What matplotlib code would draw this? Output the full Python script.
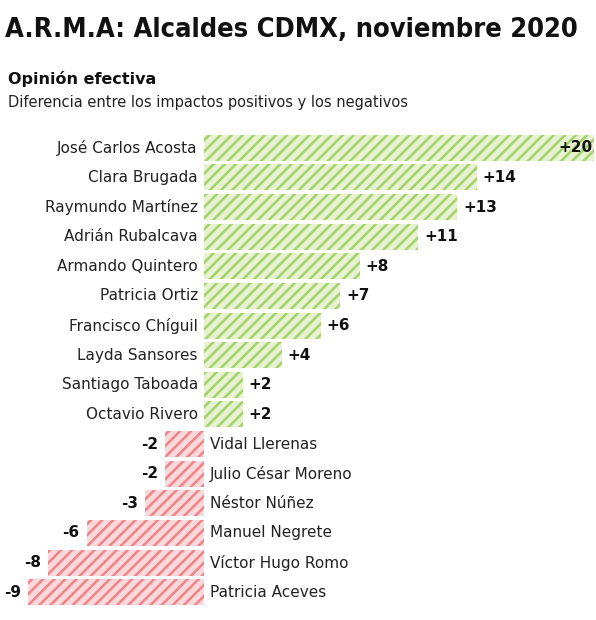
import matplotlib.pyplot as plt

names = ['José Carlos Acosta', 'Clara Brugada', 'Raymundo Martínez', 'Adrián Rubalcava',
         'Armando Quintero', 'Patricia Ortiz', 'Francisco Chíguil', 'Layda Sansores',
         'Santiago Taboada', 'Octavio Rivero', 'Vidal Llerenas', 'Julio César Moreno',
         'Néstor Núñez', 'Manuel Negrete', 'Víctor Hugo Romo', 'Patricia Aceves']
values = [20, 14, 13, 11, 8, 7, 6, 4, 2, 2, -2, -2, -3, -6, -8, -9]

plt.rcParams['hatch.linewidth'] = 1.8
fig = plt.figure(figsize=(5.96, 6.2), dpi=100)
ax = fig.add_axes([28 / 596, 13 / 620, 566 / 596, 474 / 620])

ys = list(range(len(values)))[::-1]
for y, v, n in zip(ys, values, names):
    pos = v > 0
    ax.barh(y, v, height=0.88, left=0, color='#e6f2d2' if pos else '#fbd9da',
            edgecolor='#a5d16a' if pos else '#ef8389', hatch='///', linewidth=0)
    if pos:
        ax.text(-0.3, y, n, ha='right', va='center', fontsize=11, color='#222222')
        if v == 20:
            ax.text(v - 0.1, y, f'+{v}', ha='right', va='center', fontsize=11,
                    fontweight='bold', color='#111111')
        else:
            ax.text(v + 0.3, y, f'+{v}', ha='left', va='center', fontsize=11,
                    fontweight='bold', color='#111111')
    else:
        ax.text(0.3, y, n, ha='left', va='center', fontsize=11, color='#222222')
        ax.text(v - 0.35, y, f'{v}', ha='right', va='center', fontsize=11,
                fontweight='bold', color='#111111')

ax.set_xlim(-9, 20)
ax.set_ylim(-0.5, 15.5)
ax.axis('off')

fig.text(0.008, 0.952, 'A.R.M.A: Alcaldes CDMX, noviembre 2020', fontsize=19.5,
         fontweight='bold', fontstretch='condensed', family='DejaVu Sans',
         va='center', ha='left', color='#111111')
fig.text(0.013, 0.873, 'Opinión efectiva', fontsize=11.5, fontweight='bold',
         va='center', ha='left', color='#111111')
fig.text(0.013, 0.835, 'Diferencia entre los impactos positivos y los negativos',
         fontsize=10.5, va='center', ha='left', color='#222222')

fig.savefig('out.png', dpi=100, facecolor='white')
